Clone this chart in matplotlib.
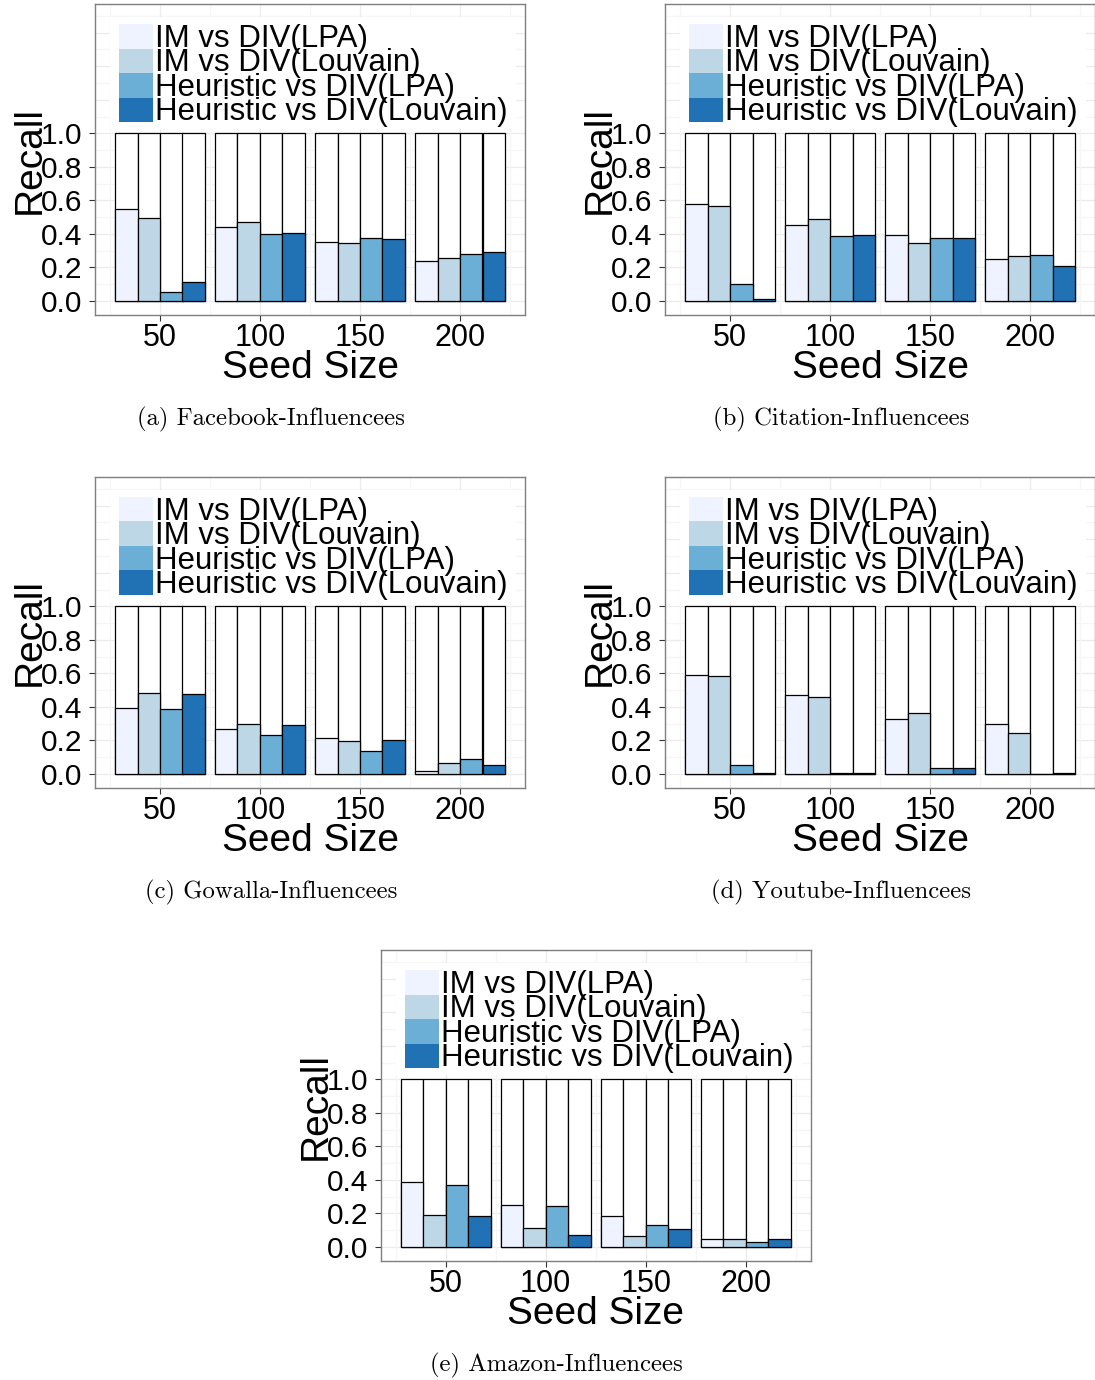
import matplotlib
matplotlib.use("Agg")
import matplotlib.pyplot as plt
from matplotlib.patches import Rectangle
import numpy as np

plt.rcParams["font.family"] = ["Liberation Sans", "DejaVu Sans"]

# Seed sizes on the x axis and the four compared method pairs
seed_sizes = ["50", "100", "150", "200"]
series_labels = ["IM vs DIV(LPA)", "IM vs DIV(Louvain)",
                 "Heuristic vs DIV(LPA)", "Heuristic vs DIV(Louvain)"]
series_colors = ["#EFF3FF", "#BDD7E7", "#6BAED6", "#2171B5"]

# Recall per series (rows) and seed size (columns)
facebook = [[0.551, 0.443, 0.350, 0.239],
            [0.497, 0.469, 0.344, 0.254],
            [0.056, 0.398, 0.378, 0.282],
            [0.115, 0.404, 0.368, 0.290]]
citation = [[0.579, 0.454, 0.393, 0.248],
            [0.565, 0.488, 0.345, 0.266],
            [0.099, 0.389, 0.375, 0.274],
            [0.012, 0.393, 0.373, 0.210]]
gowalla = [[0.394, 0.269, 0.212, 0.016],
           [0.481, 0.299, 0.198, 0.063],
           [0.390, 0.230, 0.135, 0.089],
           [0.475, 0.293, 0.204, 0.051]]
youtube = [[0.588, 0.469, 0.329, 0.297],
           [0.582, 0.457, 0.364, 0.244],
           [0.051, 0.004, 0.034, 0.002],
           [0.008, 0.004, 0.038, 0.006]]
amazon = [[0.386, 0.253, 0.186, 0.050],
          [0.188, 0.111, 0.063, 0.046],
          [0.372, 0.246, 0.129, 0.028],
          [0.186, 0.069, 0.107, 0.050]]

captions = ["(a) Facebook-Influencees", "(b) Citation-Influencees",
            "(c) Gowalla-Influencees", "(d) Youtube-Influencees",
            "(e) Amazon-Influencees"]

y_ticks = [0.0, 0.2, 0.4, 0.6, 0.8, 1.0]
full_recall = 1.0

W, H = 1095, 1380
PW, PH = 430, 311
fig = plt.figure(figsize=(W / 100, H / 100), dpi=100)


def draw_panel(left_px, top_px, data, caption):
    ax = fig.add_axes([left_px / W, 1 - (top_px + PH) / H, PW / W, PH / H])
    ax.set_xlim(0.35, 4.65)
    ax.set_ylim(-0.0835, 1.771)
    ax.set_axisbelow(True)

    # background grid (theme_bw-like)
    for v in np.arange(0.1, 1.75, 0.1):
        major = abs(round(v / 0.2) * 0.2 - v) < 1e-6
        ax.axhline(v, color="#EBEBEB" if major else "#F6F6F6", lw=0.9, zorder=0)
    ax.axhline(0.0, color="#EBEBEB", lw=0.9, zorder=0)
    for v in np.arange(0.5, 4.6, 0.5):
        major = abs(v - round(v)) < 1e-6
        ax.axvline(v, color="#EBEBEB" if major else "#F6F6F6", lw=0.9, zorder=0)

    n = len(series_labels)
    bw = 0.9 / n
    idx = np.arange(1, len(seed_sizes) + 1)
    for j in range(n):
        xs = idx + (j - (n - 1) / 2) * bw
        ax.bar(xs, [full_recall] * len(xs), width=bw, color="white",
               edgecolor="black", linewidth=0.9, zorder=2)
        ax.bar(xs, data[j], width=bw, color=series_colors[j],
               edgecolor="black", linewidth=0.9, zorder=3)

    ax.set_xticks(idx)
    ax.set_xticklabels(seed_sizes)
    ax.set_yticks(y_ticks)
    ax.set_yticklabels([f"{t:.1f}" for t in y_ticks])
    ax.tick_params(axis="y", labelsize=21.5, length=4, width=0.8,
                   color="#333333", pad=5)
    ax.tick_params(axis="x", labelsize=22, length=4, width=0.8,
                   color="#333333", pad=2)
    for sp in ax.spines.values():
        sp.set_color("#7F7F7F")
        sp.set_linewidth(1.0)

    ax.set_ylabel("Recall", fontsize=28, va="baseline")
    ax.yaxis.set_label_coords((40 - 95) / PW, 0.5)
    ax.set_xlabel("Seed Size", fontsize=28, va="baseline")
    ax.xaxis.set_label_coords(0.5, (315 - 378) / PH)

    # legend drawn inside the panel, rows overlapping like ggplot's keys
    ax.add_patch(Rectangle((15 / PW, 1 - 125 / PH), 406 / PW, 112 / PH,
                           transform=ax.transAxes, facecolor="white",
                           edgecolor="none", zorder=4))
    key_h = 24.5 / PH
    key_top = 1 - 20 / PH
    for j, (lab, col) in enumerate(zip(series_labels, series_colors)):
        y0 = key_top - (j + 1) * key_h
        ax.add_patch(Rectangle((24 / PW, y0), 34 / PW, key_h,
                               transform=ax.transAxes, facecolor=col,
                               edgecolor="none", zorder=5))
        ax.text(60 / PW, y0 + key_h / 2 - 2.5 / PH, lab, transform=ax.transAxes,
                fontsize=22.5, va="center", ha="left", zorder=6)

    fig.text((left_px + PW / 2 - 39) / W, 1 - (top_px + 421) / H, caption,
             fontsize=17.8, family="cmr10", ha="center", va="baseline")
    return ax


layout = [(95, 4), (665, 4), (95, 477), (665, 477), (380.7, 950)]
datasets = [facebook, citation, gowalla, youtube, amazon]
for (lx, ty), d, cap in zip(layout, datasets, captions):
    draw_panel(lx, ty, d, cap)

fig.savefig("out.png", dpi=100, facecolor="white")
